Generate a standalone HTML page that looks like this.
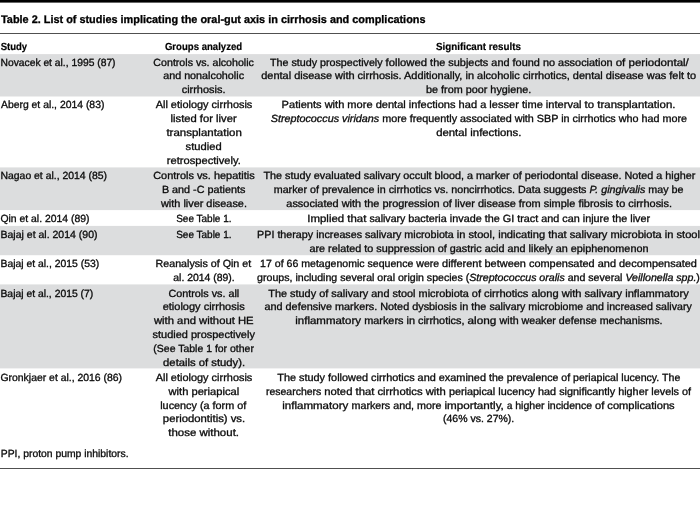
<!DOCTYPE html><html><head><meta charset="utf-8"><title>Table 2</title><style>
html,body{margin:0;padding:0;background:#fff}
body{width:700px;height:520px;position:relative;overflow:hidden;font-family:"Liberation Sans",sans-serif;color:#0c0c0c}
#wrap{position:absolute;left:0;top:0;width:700px;height:520px;will-change:transform;text-rendering:geometricPrecision}
.bar{position:absolute;left:0;top:0;width:700px;height:2px;background:#000;border-bottom:1px solid #666}
.rule{position:absolute;left:0;width:700px;height:1px;background:#505050}
.band{position:absolute;left:0;width:700px;background:#dcddde}
.ln{position:absolute;left:0;top:0;white-space:pre;line-height:1;transform-origin:0 0}
.b{font-size:10.40px;-webkit-text-stroke:0.32px #0c0c0c}
.h{font-size:10.40px;font-weight:bold;color:#000;-webkit-text-stroke:0.20px #000}
.t{font-size:11.00px;font-weight:bold;color:#000;-webkit-text-stroke:0.30px #000}
i{font-style:italic}

</style></head><body><div id="wrap">
<div class="bar"></div>
<div class="rule" style="top:33px"></div>
<div class="rule" style="top:468px"></div>
<div class="band" style="top:55px;height:41px"></div>
<div class="band" style="top:54px;height:1px;background:#e0e0e1"></div>
<div class="band" style="top:96px;height:1px;background:#eeeeee"></div>
<div class="band" style="top:168px;height:42px"></div>
<div class="band" style="top:167px;height:1px;background:#eaebeb"></div>
<div class="band" style="top:210px;height:1px;background:#fcfcfc"></div>
<div class="band" style="top:226px;height:29px"></div>
<div class="band" style="top:225px;height:1px;background:#fcfcfc"></div>
<div class="band" style="top:255px;height:1px;background:#f8f8f8"></div>
<div class="band" style="top:285px;height:83px"></div>
<div class="band" style="top:284px;height:1px;background:#eaebeb"></div>
<div class="band" style="top:368px;height:1px;background:#f1f1f2"></div>
<div id="title-0" class="ln t" style="transform:translate(1.00px,15px) scaleX(0.9898)">Table 2. List of studies implicating the oral-gut axis in cirrhosis and complications</div>
<div id="h1-0" class="ln h" style="transform:translate(0.65px,43px) scaleX(0.9177)">Study</div>
<div id="h2-0" class="ln h" style="transform:translate(164.90px,43px) scaleX(0.9228)">Groups analyzed</div>
<div id="h3-0" class="ln h" style="transform:translate(436.05px,43px) scaleX(0.9413)">Significant results</div>
<div id="a0-0" class="ln b" style="transform:translate(0.46px,59px) scaleX(0.9913)">Novacek et al., 1995 (87)</div>
<div id="b0_0-0" class="ln b" style="transform:translate(153.36px,59px) scaleX(1.0238)">Controls vs. alcoholic</div>
<div id="b0_1-0" class="ln b" style="transform:translate(163.16px,72px) scaleX(1.0369)">and nonalcoholic</div>
<div id="b0_2-0" class="ln b" style="transform:translate(181.66px,86px) scaleX(1.0536)">cirrhosis.</div>
<div id="c0_0-0" class="ln b" style="transform:translate(269.91px,59px) scaleX(1.0325)">The study prospectively </div>
<div id="c0_0-1" class="ln b" style="transform:translate(385.60px,59px) scaleX(1.0850)">followed </div>
<div id="c0_0-2" class="ln b" style="transform:translate(430.10px,59px) scaleX(1.0500)">the subjects and found no association </div>
<div id="c0_0-3" class="ln b" style="transform:translate(615.70px,59px) scaleX(1.1102)">of periodontal/</div>
<div id="c0_1-0" class="ln b" style="transform:translate(261.16px,72px) scaleX(1.0569)">dental disease with cirrhosis. Additionally, in alcoholic cirrhotics, dental disease was felt to</div>
<div id="c0_2-0" class="ln b" style="transform:translate(426.06px,86px) scaleX(1.0406)">be from poor hygiene.</div>
<div id="a1-0" class="ln b" style="transform:translate(0.96px,101px) scaleX(1.0003)">Aberg et al., 2014 (83)</div>
<div id="b1_0-0" class="ln b" style="transform:translate(155.66px,101px) scaleX(1.0529)">All etiology cirrhosis</div>
<div id="b1_1-0" class="ln b" style="transform:translate(170.56px,115px) scaleX(1.0799)">listed for liver</div>
<div id="b1_2-0" class="ln b" style="transform:translate(166.41px,129px) scaleX(1.1059)">transplantation</div>
<div id="b1_3-0" class="ln b" style="transform:translate(185.61px,143px) scaleX(1.0742)">studied</div>
<div id="b1_4-0" class="ln b" style="transform:translate(166.86px,157px) scaleX(1.0696)">retrospectively.</div>
<div id="c1_0-0" class="ln b" style="transform:translate(281.61px,101px) scaleX(1.0641)">Patients with more dental infections had a lesser time interval </div>
<div id="c1_0-1" class="ln b" style="transform:translate(584.60px,101px) scaleX(1.0999)">to transplantation.</div>
<div id="c1_1-0" class="ln b" style="transform:translate(270.71px,115px) scaleX(1.0377)"><i>Streptococcus viridans</i> more frequently associated with SBP in cirrhotics who had more</div>
<div id="c1_2-0" class="ln b" style="transform:translate(436.16px,129px) scaleX(1.0937)">dental infections.</div>
<div id="a2-0" class="ln b" style="transform:translate(0.46px,172px) scaleX(1.0032)">Nagao et al., 2014 (85)</div>
<div id="b2_0-0" class="ln b" style="transform:translate(153.16px,172px) scaleX(1.0522)">Controls vs. hepatitis</div>
<div id="b2_1-0" class="ln b" style="transform:translate(161.91px,186px) scaleX(1.0390)">B and -C patients</div>
<div id="b2_2-0" class="ln b" style="transform:translate(161.00px,200px) scaleX(1.0475)">with liver disease.</div>
<div id="c2_0-0" class="ln b" style="transform:translate(263.41px,172px) scaleX(1.0400)">The study evaluated salivary occult blood, a marker of periodontal disease. Noted a higher</div>
<div id="c2_1-0" class="ln b" style="transform:translate(273.71px,186px) scaleX(1.0316)">marker of prevalence in cirrhotics vs. noncirrhotics. Data suggests <i>P. gingivalis</i> may be</div>
<div id="c2_2-0" class="ln b" style="transform:translate(286.31px,200px) scaleX(1.0536)">associated with the progression of liver disease from simple fibrosis to cirrhosis.</div>
<div id="a3-0" class="ln b" style="transform:translate(0.46px,215px) scaleX(1.0004)">Qin et al. 2014 (89)</div>
<div id="b3_0-0" class="ln b" style="transform:translate(176.16px,215px) scaleX(0.9615)">See Table 1.</div>
<div id="c3_0-0" class="ln b" style="transform:translate(307.31px,215px) scaleX(1.0986)">Implied that </div>
<div id="c3_0-1" class="ln b" style="transform:translate(369.50px,215px) scaleX(1.0181)">salivary </div>
<div id="c3_0-2" class="ln b" style="transform:translate(408.30px,215px) scaleX(1.0413)">bacteria invade the GI tract and can injure the liver</div>
<div id="a4-0" class="ln b" style="transform:translate(0.46px,231px) scaleX(1.0125)">Bajaj et al. 2014 (90)</div>
<div id="b4_0-0" class="ln b" style="transform:translate(176.16px,231px) scaleX(0.9615)">See Table 1.</div>
<div id="c4_0-0" class="ln b" style="transform:translate(257.11px,231px) scaleX(1.0322)">PPI therapy increases salivary microbiota </div>
<div id="c4_0-1" class="ln b" style="transform:translate(456.80px,231px) scaleX(1.0688)">in stool, indicating that salivary microbiota in stool</div>
<div id="c4_1-0" class="ln b" style="transform:translate(309.46px,245px) scaleX(1.0424)">are related to suppression of gastric acid and likely an epiphenomenon</div>
<div id="a5-0" class="ln b" style="transform:translate(0.46px,260px) scaleX(1.0000)">Bajaj et al., 2015 (53)</div>
<div id="b5_0-0" class="ln b" style="transform:translate(155.56px,260px) scaleX(1.0283)">Reanalysis of Qin et</div>
<div id="b5_1-0" class="ln b" style="transform:translate(173.26px,274px) scaleX(1.0038)">al. 2014 (89).</div>
<div id="c5_0-0" class="ln b" style="transform:translate(260.11px,260px) scaleX(1.0163)">17 of 66 metagenomic sequence were </div>
<div id="c5_0-1" class="ln b" style="transform:translate(442.10px,260px) scaleX(1.0537)">different between compensated and decompensated</div>
<div id="c5_1-0" class="ln b" style="transform:translate(257.11px,274px) scaleX(1.0203)">groups, including several oral origin species (<i>Streptococcus oralis</i> and several <i>Veillonella spp.</i>)</div>
<div id="a6-0" class="ln b" style="transform:translate(0.46px,290px) scaleX(0.9977)">Bajaj et al., 2015 (7)</div>
<div id="b6_0-0" class="ln b" style="transform:translate(168.46px,290px) scaleX(1.0382)">Controls vs. all</div>
<div id="b6_1-0" class="ln b" style="transform:translate(162.66px,303px) scaleX(1.0594)">etiology cirrhosis</div>
<div id="b6_2-0" class="ln b" style="transform:translate(153.93px,317px) scaleX(1.0854)">with and without HE</div>
<div id="b6_3-0" class="ln b" style="transform:translate(152.56px,331px) scaleX(1.0545)">studied prospectively</div>
<div id="b6_4-0" class="ln b" style="transform:translate(153.36px,345px) scaleX(1.0079)">(See Table 1 for other</div>
<div id="b6_5-0" class="ln b" style="transform:translate(163.11px,359px) scaleX(1.0841)">details of study).</div>
<div id="c6_0-0" class="ln b" style="transform:translate(268.26px,290px) scaleX(1.0493)">The study of salivary and stool microbiota of </div>
<div id="c6_0-1" class="ln b" style="transform:translate(484.00px,290px) scaleX(1.0679)">cirrhotics along with salivary inflammatory</div>
<div id="c6_1-0" class="ln b" style="transform:translate(264.46px,303px) scaleX(1.0441)">and defensive markers. Noted dysbiosis in the </div>
<div id="c6_1-1" class="ln b" style="transform:translate(489.40px,303px) scaleX(1.0217)">salivary microbiome and increased salivary</div>
<div id="c6_2-0" class="ln b" style="transform:translate(295.26px,317px) scaleX(1.1055)">inflammatory </div>
<div id="c6_2-1" class="ln b" style="transform:translate(364.20px,317px) scaleX(1.0462)">markers in cirrhotics, </div>
<div id="c6_2-2" class="ln b" style="transform:translate(467.50px,317px) scaleX(1.1338)">along </div>
<div id="c6_2-3" class="ln b" style="transform:translate(499.60px,317px) scaleX(1.0259)">with weaker defense mechanisms.</div>
<div id="a7-0" class="ln b" style="transform:translate(0.46px,374px) scaleX(1.0028)">Gronkjaer et al., 2016 (86)</div>
<div id="b7_0-0" class="ln b" style="transform:translate(155.66px,374px) scaleX(1.0529)">All etiology cirrhosis</div>
<div id="b7_1-0" class="ln b" style="transform:translate(168.51px,388px) scaleX(1.0738)">with periapical</div>
<div id="b7_2-0" class="ln b" style="transform:translate(160.21px,402px) scaleX(1.0416)">lucency (a form of</div>
<div id="b7_3-0" class="ln b" style="transform:translate(162.86px,415px) scaleX(1.0877)">periodontitis) vs.</div>
<div id="b7_4-0" class="ln b" style="transform:translate(168.21px,429px) scaleX(1.1042)">those without.</div>
<div id="c7_0-0" class="ln b" style="transform:translate(277.26px,374px) scaleX(1.0475)">The study followed cirrhotics and examined </div>
<div id="c7_0-1" class="ln b" style="transform:translate(489.00px,374px) scaleX(1.0178)">the prevalence of periapical lucency. The</div>
<div id="c7_1-0" class="ln b" style="transform:translate(265.91px,388px) scaleX(1.0094)">researchers </div>
<div id="c7_1-1" class="ln b" style="transform:translate(324.20px,388px) scaleX(1.0849)">noted that cirrhotics with </div>
<div id="c7_1-2" class="ln b" style="transform:translate(448.90px,388px) scaleX(1.0428)">periapical lucency had significantly higher levels of</div>
<div id="c7_2-0" class="ln b" style="transform:translate(282.21px,402px) scaleX(1.1111)">inflammatory </div>
<div id="c7_2-1" class="ln b" style="transform:translate(351.50px,402px) scaleX(1.0323)">markers and, more </div>
<div id="c7_2-2" class="ln b" style="transform:translate(444.50px,402px) scaleX(1.1213)">importantly, </div>
<div id="c7_2-3" class="ln b" style="transform:translate(507.10px,402px) scaleX(0.9341)">a </div>
<div id="c7_2-4" class="ln b" style="transform:translate(515.20px,402px) scaleX(1.0158)">higher incidence </div>
<div id="c7_2-5" class="ln b" style="transform:translate(595.00px,402px) scaleX(1.0689)">of complications</div>
<div id="c7_3-0" class="ln b" style="transform:translate(443.01px,415px) scaleX(1.0109)">(46% vs. 27%).</div>
<div id="foot-0" class="ln b" style="transform:translate(0.76px,450px) scaleX(0.9967)">PPI, proton pump inhibitors.</div>
</div></body></html>
